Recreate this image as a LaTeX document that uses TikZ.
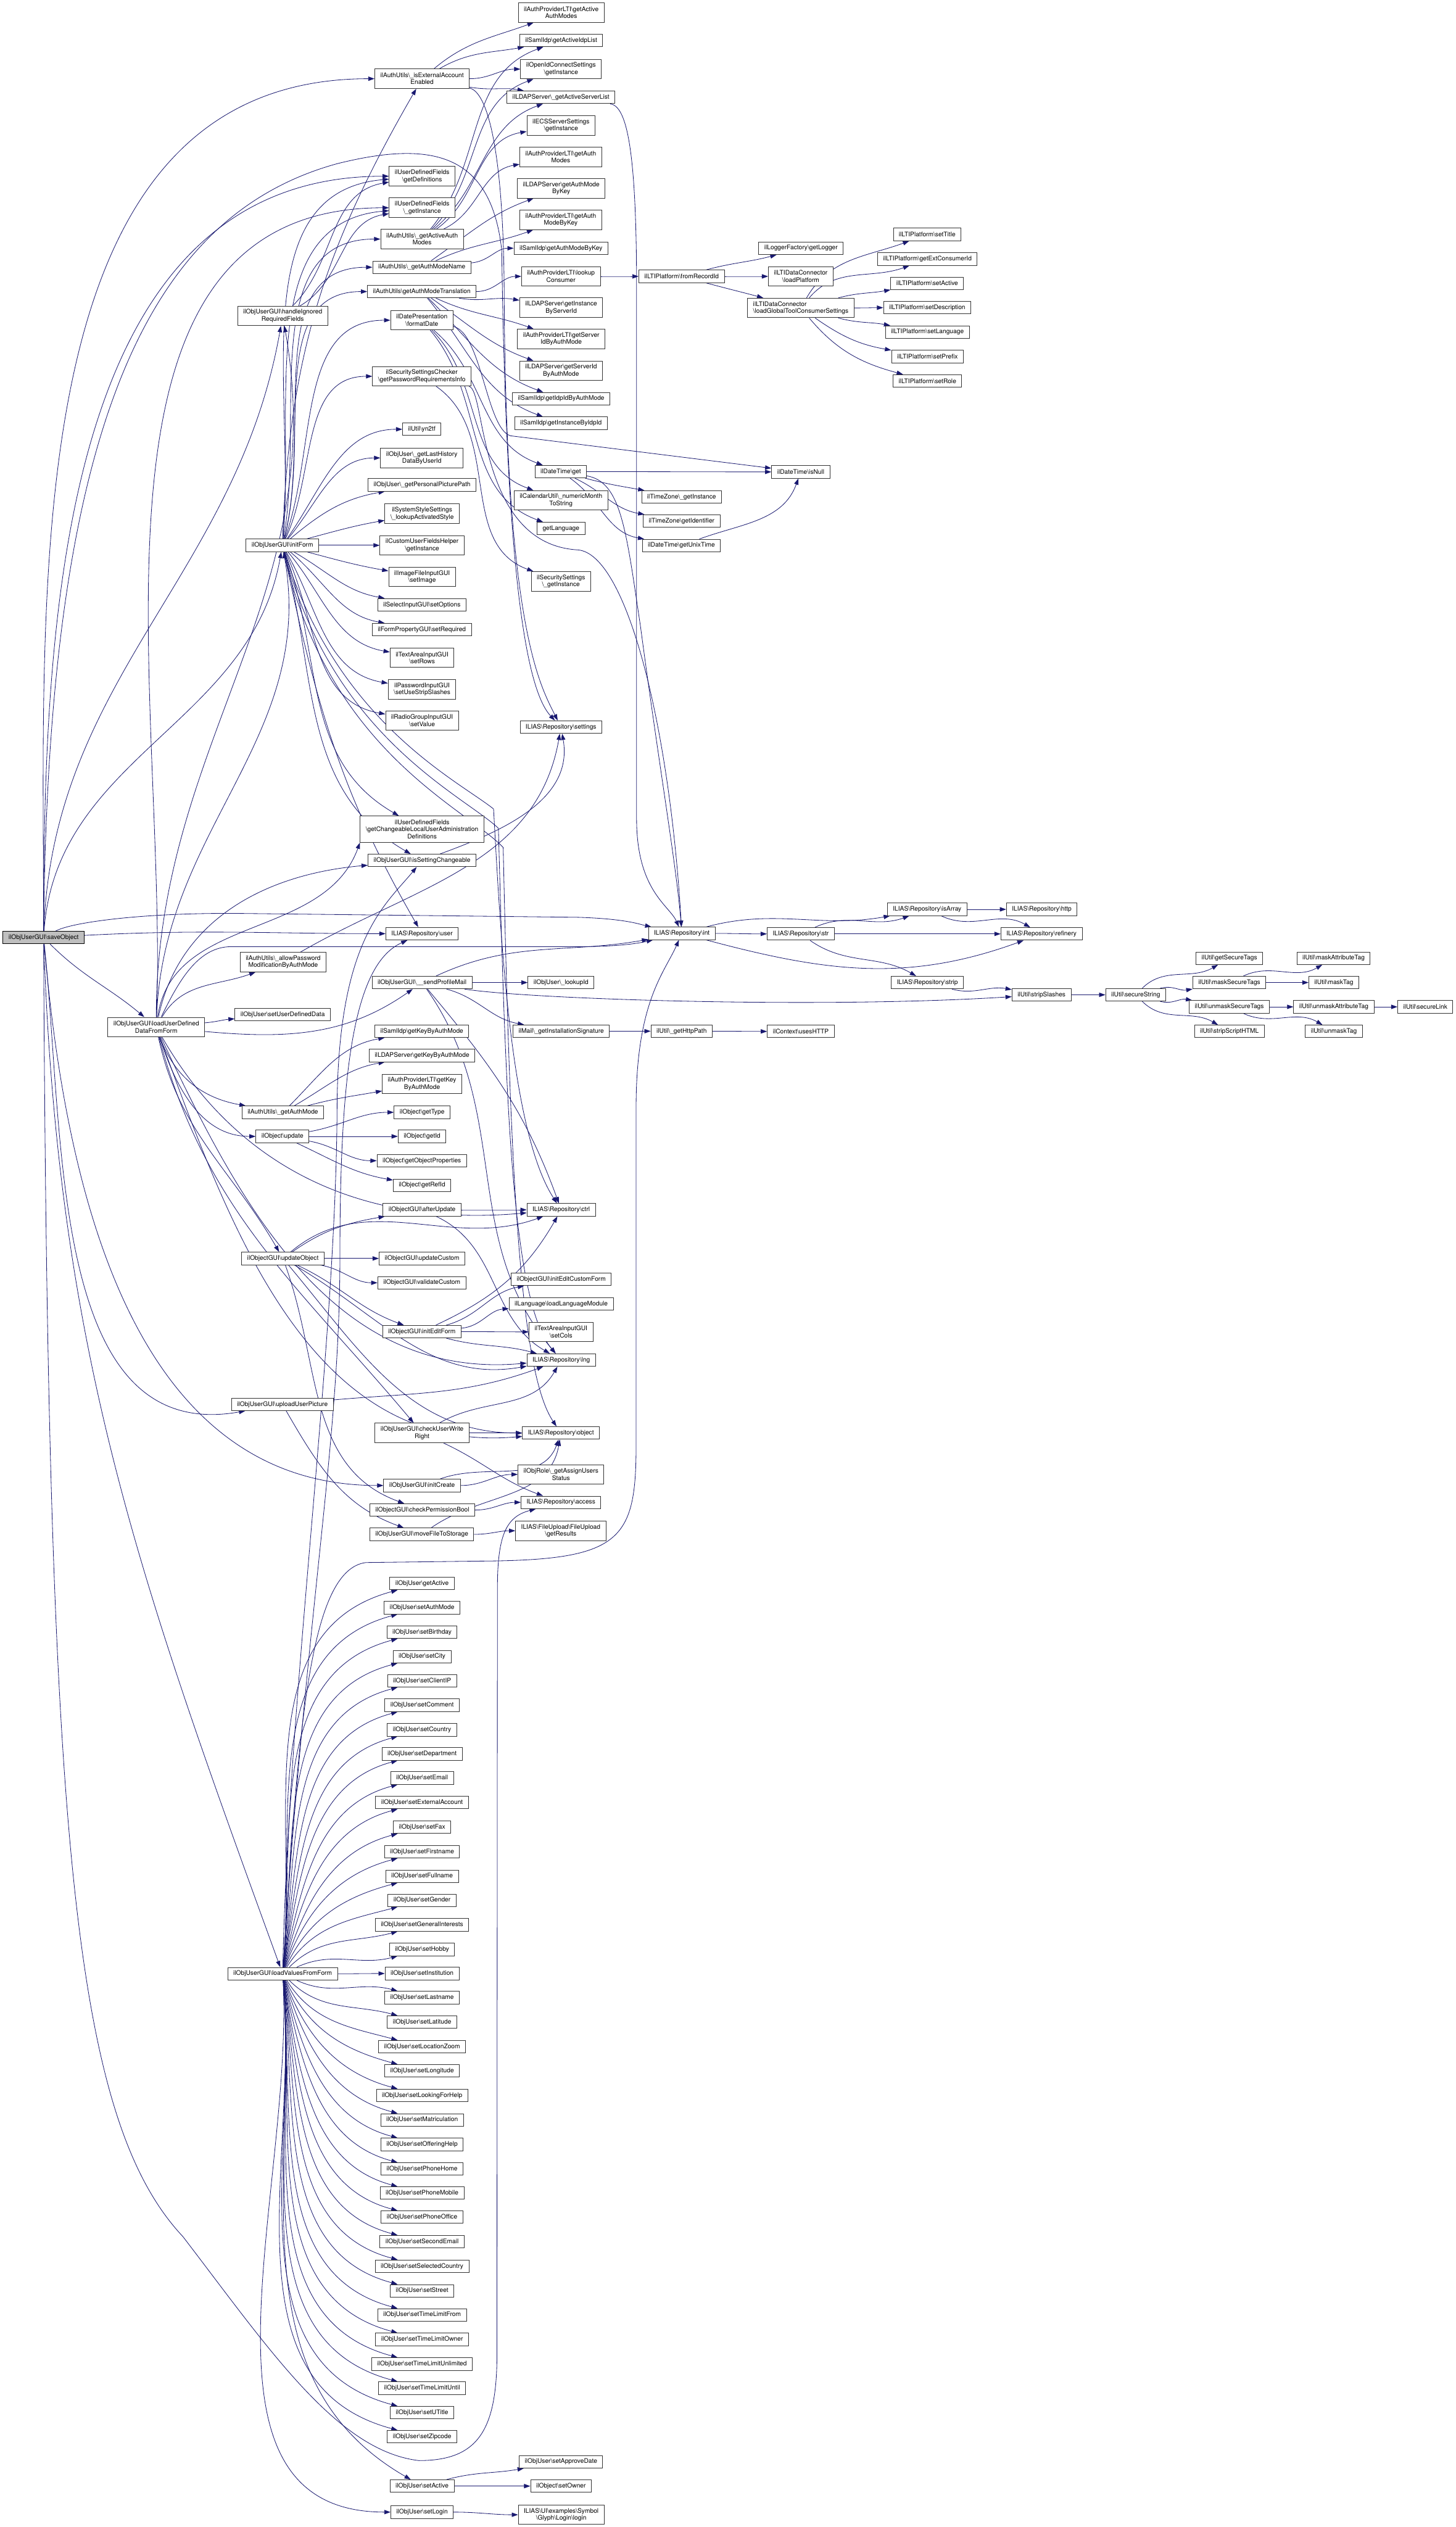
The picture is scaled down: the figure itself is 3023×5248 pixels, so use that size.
\documentclass[tikz,border=0pt]{standalone}
\usepackage{fontspec}
\setmainfont{TeX Gyre Heros}
\usetikzlibrary{arrows.meta}
\pgfdeclarelayer{bg}
\pgfsetlayers{bg,main}
\definecolor{mb}{HTML}{191970}
\definecolor{ndc}{HTML}{333333}
\definecolor{rootfill}{HTML}{BFBFBF}
\newcommand\bsl{\textbackslash}
\newcommand\edg[4]{\draw[ed] (#1) to[out=#3,in=#4] (#2);}
\tikzset{
 nd/.style={draw=ndc, fill=white, line width=0.35pt, font=\fontsize{3.72}{4.18}\selectfont, align=center, inner xsep=0.115cm, inner ysep=0pt, minimum height=0.26cm},
 two/.style={minimum height=0.405cm},
 three/.style={minimum height=0.545cm},
 root/.style={nd, fill=rootfill, draw=black},
 ed/.style={draw=mb, line width=0.3pt, -{Triangle[length=0.13cm,width=0.09cm]}},
}
\begin{document}
\begin{tikzpicture}[x=0.01cm,y=-0.01cm]
\useasboundingbox (0,0) rectangle (3023,5248);
% rank 0-2
\node[root] (S) at (90.5,1947) {ilObjUserGUI\bsl saveObject};
\node[nd,two] (LUD) at (324.5,2133) {ilObjUserGUI\bsl loadUserDefined\\DataFromForm};
\node[nd,two] (HIR) at (587,656) {ilObjUserGUI\bsl handleIgnored\\RequiredFields};
\node[nd] (IF) at (586.5,1132.5) {ilObjUserGUI\bsl initForm};
\node[nd,two] (APM) at (588,1998) {ilAuthUtils\bsl\_allowPassword\\ModificationByAuthMode};
\node[nd] (SUDD) at (587,2107) {ilObjUser\bsl setUserDefinedData};
\node[nd] (GAM) at (587.5,2310) {ilAuthUtils\bsl\_getAuthMode};
\node[nd] (OUPD) at (586.5,2360) {ilObject\bsl update};
\node[nd] (UO) at (587.5,2613.5) {ilObjectGUI\bsl updateObject};
\node[nd] (UUP) at (586.5,2916.5) {ilObjUserGUI\bsl uploadUserPicture};
\node[nd] (LVF) at (587,4099) {ilObjUserGUI\bsl loadValuesFromForm};
% rank 3
\node[nd,two] (EXT) at (876.5,163.5) {ilAuthUtils\bsl\_isExternalAccount\\Enabled};
\node[nd,two] (GDEF) at (876.5,366) {ilUserDefinedFields\\\bsl getDefinitions};
\node[nd,two] (UDFI) at (876.5,431.5) {ilUserDefinedFields\\\bsl\_getInstance};
\node[nd,two] (GAAM) at (876.5,496.5) {ilAuthUtils\bsl\_getActiveAuth\\Modes};
\node[nd] (GAMN) at (876,555) {ilAuthUtils\bsl\_getAuthModeName};
\node[nd] (GAMT) at (876,605.5) {ilAuthUtils\bsl getAuthModeTranslation};
\node[nd,two] (FD) at (876,665) {ilDatePresentation\\\bsl formatDate};
\node[nd,two] (PRI) at (876,781.5) {ilSecuritySettingsChecker\\\bsl getPasswordRequirementsInfo};
\node[nd] (YN) at (876,891.5) {ilUtil\bsl yn2tf};
\node[nd,two] (LHD) at (876,951) {ilObjUser\bsl\_getLastHistory\\DataByUserId};
\node[nd] (PPP) at (876.5,1007) {ilObjUser\bsl\_getPersonalPicturePath};
\node[nd,two] (LAS) at (876.5,1067) {ilSystemStyleSettings\\\bsl\_lookupActivatedStyle};
\node[nd,two] (CUF) at (876.5,1132.5) {ilCustomUserFieldsHelper\\\bsl getInstance};
\node[nd,two] (SIMG) at (876.5,1198) {ilImageFileInputGUI\\\bsl setImage};
\node[nd] (SOPT) at (876,1256) {ilSelectInputGUI\bsl setOptions};
\node[nd] (SREQ) at (876,1307.5) {ilFormPropertyGUI\bsl setRequired};
\node[nd,two] (SROWS) at (876.5,1366) {ilTextAreaInputGUI\\\bsl setRows};
\node[nd,two] (SUSS) at (876.5,1431.5) {ilPasswordInputGUI\\\bsl setUseStripSlashes};
\node[nd,two] (SVAL) at (876.5,1496.5) {ilRadioGroupInputGUI\\\bsl setValue};
\node[nd,three] (GCL) at (876.5,1722) {ilUserDefinedFields\\\bsl getChangeableLocalUserAdministration\\Definitions};
\node[nd] (ISC) at (876.5,1787) {ilObjUserGUI\bsl isSettingChangeable};
\node[nd] (USER) at (876.5,1939) {ILIAS\bsl Repository\bsl user};
\node[nd] (SPM) at (876.5,2040.5) {ilObjUserGUI\bsl\_\_sendProfileMail};
\node[nd] (SKBA) at (876,2141.5) {ilSamlIdp\bsl getKeyByAuthMode};
\node[nd] (LKBA) at (876.5,2192) {ilLDAPServer\bsl getKeyByAuthMode};
\node[nd,two] (TKBA) at (876.5,2251) {ilAuthProviderLTI\bsl getKey\\ByAuthMode};
\node[nd] (GTYPE) at (876.5,2310) {ilObject\bsl getType};
\node[nd] (GID) at (876.5,2360) {ilObject\bsl getId};
\node[nd] (GOP) at (876,2410.5) {ilObject\bsl getObjectProperties};
\node[nd] (GREF) at (876.5,2461.5) {ilObject\bsl getRefId};
\node[nd] (AU) at (876.5,2512.5) {ilObjectGUI\bsl afterUpdate};
\node[nd] (UC) at (876.5,2613.5) {ilObjectGUI\bsl updateCustom};
\node[nd] (VC) at (876,2664) {ilObjectGUI\bsl validateCustom};
\node[nd] (IEF) at (876,2765.5) {ilObjectGUI\bsl initEditForm};
\node[nd,two] (CUWR) at (876.5,2976) {ilObjUserGUI\bsl checkUserWrite\\Right};
\node[nd] (IC) at (876.5,3085) {ilObjUserGUI\bsl initCreate};
\node[nd] (CPB) at (877,3136) {ilObjectGUI\bsl checkPermissionBool};
\node[nd] (MFS) at (876,3186.5) {ilObjUserGUI\bsl moveFileToStorage};
\foreach \nm/\yy/\tx in {u1/3288.5/getActive, u2/3338.7/setAuthMode, u3/3389.5/setBirthday, u4/3440.3/setCity, u5/3490.5/setClientIP, u6/3541.5/setComment, u7/3592.5/setCountry, u8/3642.5/setDepartment, u9/3692.5/setEmail, u10/3743.5/setExternalAccount, u11/3794.5/setFax, u12/3845.5/setFirstname, u13/3896.5/setFullname, u14/3946.5/setGender, u15/3997.5/setGeneralInterests, u16/4048.5/setHobby, u17/4098.5/setInstitution, u18/4148.5/setLastname, u19/4199.5/setLatitude, u20/4250.5/setLocationZoom, u21/4300.5/setLongitude, u22/4351.5/setLookingForHelp, u23/4402.5/setMatriculation, u24/4453.5/setOfferingHelp, u25/4504.5/setPhoneHome, u26/4554.5/setPhoneMobile, u27/4604.5/setPhoneOffice, u28/4655.5/setSecondEmail, u29/4706.5/setSelectedCountry, u30/4757.5/setStreet, u31/4807.5/setTimeLimitFrom, u32/4858.5/setTimeLimitOwner, u33/4909.5/setTimeLimitUnlimited, u34/4959.5/setTimeLimitUntil, u35/5010.5/setUTitle, u36/5060.5/setZipcode, u37/5163/setActive, u38/5217/setLogin}
  \node[nd] (\nm) at (876.5,\yy) {ilObjUser\bsl \tx};
% rank 4
\node[nd,two] (LTIGAAM) at (1165.5,26) {ilAuthProviderLTI\bsl getActive\\AuthModes};
\node[nd] (SGAIL) at (1165.5,84) {ilSamlIdp\bsl getActiveIdpList};
\node[nd,two] (OIDC) at (1165,143.5) {ilOpenIdConnectSettings\\\bsl getInstance};
\node[nd] (GASL) at (1165,202) {ilLDAPServer\bsl\_getActiveServerList};
\node[nd,two] (ECS) at (1165,260.5) {ilECSServerSettings\\\bsl getInstance};
\node[nd,two] (LTIGAM) at (1164.5,326) {ilAuthProviderLTI\bsl getAuth\\Modes};
\node[nd,two] (LGAMBK) at (1165.5,391) {ilLDAPServer\bsl getAuthMode\\ByKey};
\node[nd,two] (TGAMBK) at (1164.5,456.5) {ilAuthProviderLTI\bsl getAuth\\ModeByKey};
\node[nd] (SGAMBK) at (1165,515.5) {ilSamlIdp\bsl getAuthModeByKey};
\node[nd,two] (LC) at (1165,574) {ilAuthProviderLTI\bsl lookup\\Consumer};
\node[nd,two] (GIBSI) at (1165.5,639) {ilLDAPServer\bsl getInstance\\ByServerId};
\node[nd,two] (TGSI) at (1165.5,704) {ilAuthProviderLTI\bsl getServer\\IdByAuthMode};
\node[nd,two] (LGSI) at (1165,770) {ilLDAPServer\bsl getServerId\\ByAuthMode};
\node[nd] (SGII) at (1165.5,828) {ilSamlIdp\bsl getIdpIdByAuthMode};
\node[nd] (SGIB) at (1165,879) {ilSamlIdp\bsl getInstanceByIdpId};
\node[nd] (DTGET) at (1164.5,979.5) {ilDateTime\bsl get};
\node[nd,two] (NMTS) at (1165,1039) {ilCalendarUtil\bsl\_numericMonth\\ToString};
\node[nd] (GLANG) at (1165,1097.5) {getLanguage};
\node[nd,two] (SSI) at (1165,1207.5) {ilSecuritySettings\\\bsl\_getInstance};
\node[nd] (SETT) at (1165,1510) {ILIAS\bsl Repository\bsl settings};
\node[nd] (LUID) at (1165,2040.5) {ilObjUser\bsl\_lookupId};
\node[nd] (GIS) at (1165.5,2141.5) {ilMail\bsl\_getInstallationSignature};
\node[nd] (CTRL) at (1165.5,2512.5) {ILIAS\bsl Repository\bsl ctrl};
\node[nd] (IECF) at (1165.5,2657) {ilObjectGUI\bsl initEditCustomForm};
\node[nd] (LLM) at (1165.5,2708) {ilLanguage\bsl loadLanguageModule};
\node[nd,two] (SCOLS) at (1165,2766) {ilTextAreaInputGUI\\\bsl setCols};
\node[nd] (LNG) at (1165.5,2824.5) {ILIAS\bsl Repository\bsl lng};
\node[nd] (OBJ) at (1165,2976) {ILIAS\bsl Repository\bsl object};
\node[nd,two] (GAUS) at (1165,3062) {ilObjRole\bsl\_getAssignUsers\\Status};
\node[nd] (ACC) at (1165,3120) {ILIAS\bsl Repository\bsl access};
\node[nd,two] (GRES) at (1164.5,3179) {ILIAS\bsl FileUpload\bsl FileUpload\\\bsl getResults};
\node[nd] (SAD) at (1165,5112.5) {ilObjUser\bsl setApproveDate};
\node[nd] (SOWN) at (1165,5163) {ilObject\bsl setOwner};
\node[nd,two] (LOGIN) at (1165.5,5222.5) {ILIAS\bsl UI\bsl examples\bsl Symbol\\\bsl Glyph\bsl Login\bsl login};
% rank 5
\node[nd] (FRID) at (1415.5,574) {ilLTIPlatform\bsl fromRecordId};
\node[nd] (TZI) at (1415.5,1032) {ilTimeZone\bsl\_getInstance};
\node[nd] (TZID) at (1415.5,1082) {ilTimeZone\bsl getIdentifier};
\node[nd] (GUT) at (1415,1133) {ilDateTime\bsl getUnixTime};
\node[nd] (INT) at (1416,1938.5) {ILIAS\bsl Repository\bsl int};
\node[nd] (GHP) at (1415.5,2141.5) {ilUtil\bsl\_getHttpPath};
% rank 6
\node[nd] (GLOG) at (1663.5,515.5) {ilLoggerFactory\bsl getLogger};
\node[nd,two] (LPLAT) at (1663,574) {ilLTIDataConnector\\\bsl loadPlatform};
\node[nd,two,align=left] (LGTCS) at (1663,639.5) {ilLTIDataConnector\\\bsl loadGlobalToolConsumerSettings};
\node[nd] (ISNULL) at (1663,980) {ilDateTime\bsl isNull};
\node[nd] (STR) at (1663,1939.5) {ILIAS\bsl Repository\bsl str};
\node[nd] (UHTTP) at (1663,2142) {ilContext\bsl usesHTTP};
% rank 7
\node[nd] (SETTITLE) at (1925.5,487) {ilLTIPlatform\bsl setTitle};
\node[nd] (GECI) at (1926,538) {ilLTIPlatform\bsl getExtConsumerId};
\node[nd] (SETACT) at (1925.5,588.5) {ilLTIPlatform\bsl setActive};
\node[nd] (SETDESC) at (1925.5,639) {ilLTIPlatform\bsl setDescription};
\node[nd] (SETLANG) at (1926,689.5) {ilLTIPlatform\bsl setLanguage};
\node[nd] (SETPRE) at (1926,740.5) {ilLTIPlatform\bsl setPrefix};
\node[nd] (SETROLE) at (1926,791) {ilLTIPlatform\bsl setRole};
\node[nd] (ISARR) at (1925.5,1888.5) {ILIAS\bsl Repository\bsl isArray};
\node[nd] (STRIP) at (1926,2040.5) {ILIAS\bsl Repository\bsl strip};
% rank 8+
\node[nd] (HTTP) at (2163.5,1888.5) {ILIAS\bsl Repository\bsl http};
\node[nd] (REF) at (2163,1939.5) {ILIAS\bsl Repository\bsl refinery};
\node[nd] (SSL) at (2163,2066) {ilUtil\bsl stripSlashes};
\node[nd] (SECS) at (2358.5,2066) {ilUtil\bsl secureString};
\node[nd] (GST) at (2553,1990) {ilUtil\bsl getSecureTags};
\node[nd] (MST) at (2553,2040.5) {ilUtil\bsl maskSecureTags};
\node[nd] (UMST) at (2553,2091) {ilUtil\bsl unmaskSecureTags};
\node[nd] (SSH) at (2553,2142) {ilUtil\bsl stripScriptHTML};
\node[nd] (MAT) at (2769.5,1990) {ilUtil\bsl maskAttributeTag};
\node[nd] (MT) at (2770,2040.5) {ilUtil\bsl maskTag};
\node[nd] (UMAT) at (2770,2091) {ilUtil\bsl unmaskAttributeTag};
\node[nd] (UMT) at (2770,2142) {ilUtil\bsl unmaskTag};
\node[nd] (SL) at (2960,2091) {ilUtil\bsl secureLink};

\begin{pgfonlayer}{bg}
\fill[white] (0,0) rectangle (3023,5248);
% root: up
\edg{S}{EXT}{90}{180}
\edg{S}{GDEF}{90}{180}
\edg{S}{HIR}{88}{-100}
\edg{S}{IF}{86}{-100}
\draw[ed] (S) .. controls (100,900) and (300,450) .. (700,340) .. controls (900,290) and (1020,320) .. (1042,520) .. controls (1052,1250) and (1100,1440) .. (SETT);
% root: right
\edg{S}{USER}{3}{180}
\draw[ed] (S) .. controls (150,1915) and (300,1895) .. (500,1897) -- (1200,1905) .. controls (1300,1908) and (1330,1920) .. (INT);
% root: down
\edg{S}{LUD}{-45}{140}
\edg{S}{LVF}{-88}{110}
\edg{S}{UUP}{-84}{190}
\edg{S}{IC}{-85}{180}
\draw[ed] (S) .. controls (100,3800) and (150,4400) .. (380,4645) .. controls (560,4880) and (700,5090) .. (870,5110) .. controls (990,5110) and (1030,5050) .. (1032,4900) -- (1033,3300) .. controls (1033,3190) and (1050,3150) .. (ACC);
% loadUserDefinedDataFromForm: up
\edg{LUD}{UDFI}{88}{180}
\edg{LUD}{HIR}{90}{-80}
\edg{LUD}{IF}{88}{-80}
\draw[ed] (LUD) to[out=82,in=-110] (GCL.south west);
\edg{LUD}{ISC}{78}{185}
\edg{LUD}{APM}{60}{200}
\draw[ed] (LUD) .. controls (370,2040) and (410,1966) .. (480,1966) -- (1200,1966) .. controls (1290,1966) and (1330,1958) .. (INT);
% LUD: right
\edg{LUD}{SUDD}{5}{185}
\draw[ed] (LUD) .. controls (600,2158) and (720,2150) .. (SPM);
% LUD: down
\edg{LUD}{GAM}{-70}{170}
\edg{LUD}{OUPD}{-72}{180}
\edg{LUD}{UO}{-78}{120}
\edg{LUD}{CUWR}{-75}{130}
\edg{LUD}{CTRL}{-60}{185}
\edg{LUD}{LNG}{-65}{185}
\edg{LUD}{OBJ}{-70}{185}
% HIR
\edg{HIR}{GDEF}{45}{190}
\edg{HIR}{UDFI}{30}{190}
% initForm
\edg{IF}{EXT}{88}{-120}
\edg{IF}{GDEF}{85}{185}
\edg{IF}{UDFI}{85}{185}
\edg{IF}{GAAM}{80}{180}
\edg{IF}{GAMN}{75}{180}
\edg{IF}{GAMT}{75}{180}
\edg{IF}{FD}{70}{180}
\edg{IF}{PRI}{65}{180}
\edg{IF}{YN}{55}{180}
\edg{IF}{LHD}{50}{180}
\edg{IF}{PPP}{40}{190}
\edg{IF}{LAS}{15}{190}
\edg{IF}{CUF}{0}{180}
\edg{IF}{SIMG}{-15}{170}
\edg{IF}{SOPT}{-30}{170}
\edg{IF}{SREQ}{-40}{170}
\edg{IF}{SROWS}{-50}{170}
\edg{IF}{SUSS}{-60}{170}
\edg{IF}{SVAL}{-65}{170}
\edg{IF}{GCL}{-70}{150}
\edg{IF}{ISC}{-75}{150}
\edg{IF}{USER}{-78}{120}
\draw[ed] (IF) .. controls (700,1500) and (950,1620) .. (1025,1680) .. controls (1040,1950) and (1060,2350) .. (CTRL);
\draw[ed] (IF) .. controls (690,1530) and (960,1650) .. (1035,1720) .. controls (1050,2250) and (1060,2700) .. (LNG);
\draw[ed] (IF) .. controls (680,1560) and (970,1680) .. (1045,1760) .. controls (1060,2450) and (1080,2850) .. (OBJ);
% rank 2 others
\edg{GAM}{SKBA}{45}{190}
\edg{GAM}{LKBA}{30}{190}
\edg{GAM}{TKBA}{15}{190}
\edg{OUPD}{GTYPE}{10}{180}
\edg{OUPD}{GID}{0}{180}
\edg{OUPD}{GOP}{-10}{180}
\edg{OUPD}{GREF}{-25}{170}
\edg{UO}{AU}{35}{190}
\edg{UO}{UC}{0}{180}
\edg{UO}{VC}{-10}{180}
\edg{UO}{IEF}{-25}{160}
\edg{UO}{CPB}{-70}{160}
\edg{UO}{CTRL}{40}{200}
\edg{UO}{LNG}{-30}{190}
\edg{UO}{OBJ}{-50}{180}
\edg{UUP}{MFS}{-60}{160}
\edg{UUP}{LNG}{5}{200}
\edg{APM}{SETT}{30}{-100}
% loadValuesFromForm
\foreach \nm/\oo in {u1/85,u2/85,u3/85,u4/84,u5/83,u6/82,u7/81,u8/80,u9/78,u10/76,u11/73,u12/70,u13/65,u14/58,u15/45,u16/25}
  \draw[ed] (LVF) to[out=\oo,in=195] (\nm);
\draw[ed] (LVF) to[out=0,in=180] (u17);
\foreach \nm/\oo in {u18/-25,u19/-45,u20/-58,u21/-65,u22/-70,u23/-73,u24/-76,u25/-78,u26/-80,u27/-81,u28/-82,u29/-83,u30/-84,u31/-85,u32/-85,u33/-85,u34/-85,u35/-85,u36/-85}
  \draw[ed] (LVF) to[out=\oo,in=165] (\nm);
\edg{LVF}{u37}{-86}{150}
\edg{LVF}{u38}{-87}{180}
\draw[ed] (LVF) .. controls (620,3600) and (640,3260) .. (760,3245) -- (1000,3242) .. controls (1290,3240) and (1321,3200) .. (1321,3000) -- (1321,2300) .. controls (1321,2080) and (1380,2020) .. (INT);
\draw[ed] (LVF) .. controls (640,3300) and (706,3000) .. (706,2600) .. controls (706,2200) and (740,2000) .. (USER);
\draw[ed] (LVF) .. controls (600,3500) and (698,2800) .. (700,2300) .. controls (702,1950) and (800,1880) .. (ISC);
% rank 3 sources
\edg{ISC}{SETT}{20}{-80}
\edg{EXT}{LTIGAAM}{40}{200}
\edg{EXT}{SGAIL}{30}{190}
\edg{EXT}{OIDC}{0}{180}
\edg{EXT}{GASL}{-10}{170}
\draw[ed] (EXT) .. controls (1010,190) and (1045,300) .. (1047,600) .. controls (1050,1300) and (1120,1420) .. (SETT);
\edg{GAAM}{SGAIL}{50}{200}
\edg{GAAM}{OIDC}{45}{200}
\edg{GAAM}{GASL}{40}{200}
\edg{GAAM}{ECS}{35}{190}
\edg{GAAM}{LTIGAM}{25}{190}
\edg{GAMN}{LGAMBK}{35}{200}
\edg{GAMN}{TGAMBK}{25}{200}
\edg{GAMN}{SGAMBK}{5}{180}
\edg{GAMT}{LC}{0}{180}
\edg{GAMT}{GIBSI}{-10}{170}
\edg{GAMT}{TGSI}{-25}{160}
\edg{GAMT}{LGSI}{-35}{160}
\edg{GAMT}{SGII}{-45}{160}
\edg{GAMT}{SGIB}{-50}{160}
\edg{FD}{DTGET}{-40}{160}
\edg{FD}{NMTS}{-45}{160}
\edg{FD}{GLANG}{-50}{160}
\draw[ed] (FD) .. controls (1000,690) and (1010,890) .. (1060,905) -- (ISNULL);
\edg{PRI}{SSI}{-35}{160}
\draw[ed] (PRI) .. controls (1010,810) and (990,1130) .. (1200,1142) .. controls (1300,1150) and (1390,1500) .. (INT);
\edg{SPM}{LUID}{0}{180}
\edg{SPM}{GIS}{-15}{170}
\draw[ed] (SPM) .. controls (1100,2075) and (1700,2095) .. (SSL);
\edg{SPM}{INT}{25}{190}
\edg{SPM}{CTRL}{-50}{110}
\edg{SPM}{LNG}{-55}{130}
\edg{CUWR}{LNG}{30}{-120}
\edg{CUWR}{OBJ}{0}{180}
\edg{CUWR}{ACC}{-25}{160}
\edg{IC}{OBJ}{20}{-110}
\edg{IC}{GAUS}{0}{180}
\edg{CPB}{ACC}{0}{180}
\edg{MFS}{GRES}{0}{180}
\edg{MFS}{OBJ}{35}{-100}
\edg{AU}{CTRL}{0}{180}
\edg{AU}{LNG}{-25}{150}
\edg{IEF}{IECF}{15}{190}
\edg{IEF}{LLM}{5}{185}
\edg{IEF}{SCOLS}{0}{180}
\edg{IEF}{LNG}{-15}{165}
\edg{IEF}{CTRL}{25}{-120}
\edg{u37}{SAD}{15}{190}
\edg{u37}{SOWN}{0}{180}
\edg{u38}{LOGIN}{0}{180}
% rank 4+
\draw[ed] (GASL) .. controls (1300,220) and (1322,300) .. (1322,600) -- (1322,1700) .. controls (1322,1850) and (1390,1880) .. (INT);
\edg{DTGET}{ISNULL}{0}{180}
\edg{DTGET}{TZI}{-15}{170}
\edg{DTGET}{TZID}{-25}{170}
\edg{DTGET}{GUT}{-35}{170}
\draw[ed] (DTGET) .. controls (1290,1000) and (1300,1100) .. (1330,1300) .. controls (1370,1600) and (1405,1800) .. (INT);
\edg{GUT}{ISNULL}{20}{-110}
\edg{LC}{FRID}{0}{180}
\edg{FRID}{GLOG}{15}{195}
\edg{FRID}{LPLAT}{0}{180}
\edg{FRID}{LGTCS}{-15}{165}
\edg{LGTCS}{SETTITLE}{60}{200}
\edg{LGTCS}{GECI}{50}{200}
\edg{LGTCS}{SETACT}{15}{190}
\edg{LGTCS}{SETDESC}{0}{180}
\edg{LGTCS}{SETLANG}{-15}{170}
\edg{LGTCS}{SETPRE}{-35}{170}
\edg{LGTCS}{SETROLE}{-50}{165}
\edg{GIS}{GHP}{0}{180}
\edg{GHP}{UHTTP}{0}{180}
\edg{INT}{STR}{0}{180}
\edg{INT}{ISARR}{15}{190}
\edg{INT}{REF}{-15}{200}
\edg{STR}{ISARR}{25}{200}
\edg{STR}{REF}{0}{180}
\edg{STR}{STRIP}{-35}{150}
\edg{ISARR}{HTTP}{0}{180}
\edg{ISARR}{REF}{-25}{150}
\edg{STRIP}{SSL}{-15}{170}
\edg{SSL}{SECS}{0}{180}
\edg{SECS}{GST}{45}{210}
\edg{SECS}{MST}{15}{190}
\edg{SECS}{UMST}{-15}{170}
\edg{SECS}{SSH}{-45}{150}
\edg{MST}{MAT}{25}{210}
\edg{MST}{MT}{0}{180}
\edg{UMST}{UMAT}{0}{180}
\edg{UMST}{UMT}{-25}{150}
\edg{UMAT}{SL}{0}{180}
\end{pgfonlayer}
\end{tikzpicture}
\end{document}
